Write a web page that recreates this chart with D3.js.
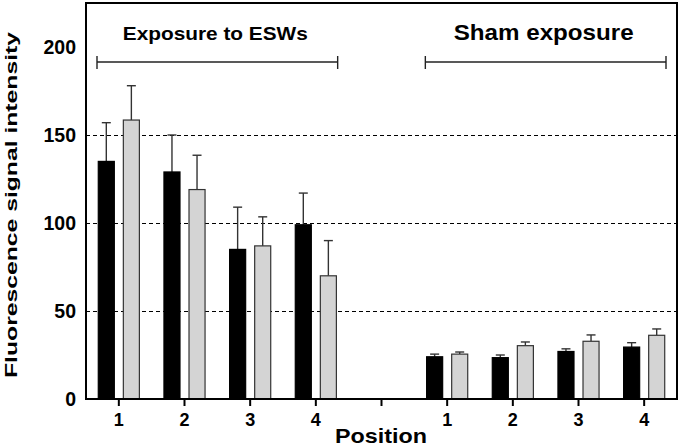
<!DOCTYPE html>
<html>
<head>
<meta charset="utf-8">
<script src="https://cdn.jsdelivr.net/npm/d3@7"></script>
<style>
  body { margin: 0; background: #fff; }
  text { font-family: "Liberation Sans", Arial, sans-serif; font-weight: bold; fill: #000; }
</style>
</head>
<body>
<div id="chart"></div>
<script>
// x slots: 4 positions, an empty gap slot, 4 positions
const xLabels = ["1", "2", "3", "4", "", "1", "2", "3", "4"];
const yTicks = [0, 50, 100, 150, 200];
const gridValues = [50, 100, 150];

// exposure to ESWs (slots 0-3)
const eswBlack = [135, 129, 85, 99];
const eswBlackErr = [22, 21, 24, 18];
const eswGray = [158.5, 119, 87, 70];
const eswGrayErr = [19.5, 19.5, 16.5, 20];

// sham exposure (slots 5-8)
const shamBlack = [24, 23.5, 27, 29.5];
const shamBlackErr = [1.5, 1.5, 1.5, 2.5];
const shamGray = [25.5, 30.3, 32.8, 36.2];
const shamGrayErr = [1.2, 2.1, 3.6, 3.6];

const groups = [
  { label: "Exposure to ESWs", slots: [0, 3], size: 18.5, len: 185 },
  { label: "Sham exposure", slots: [5, 8], size: 22, len: 180 }
];

const width = 683, height = 446;
const margin = { top: 3, right: 6, bottom: 47, left: 86 };

const svg = d3.select("#chart").append("svg")
  .attr("width", width)
  .attr("height", height);

const x = d3.scaleBand()
  .domain(d3.range(xLabels.length))
  .range([margin.left, width - margin.right]);

const xInner = d3.scaleBand()
  .domain(["black", "gray"])
  .range([0, x.bandwidth()])
  .paddingInner(0.36)
  .paddingOuter(0.49);

const y = d3.scaleLinear()
  .domain([0, 225])
  .range([height - margin.bottom, margin.top]);

// build bar records
const bars = [];
eswBlack.forEach((v, i) => bars.push({ slot: i, s: "black", v, e: eswBlackErr[i] }));
eswGray.forEach((v, i) => bars.push({ slot: i, s: "gray", v, e: eswGrayErr[i] }));
shamBlack.forEach((v, i) => bars.push({ slot: i + 5, s: "black", v, e: shamBlackErr[i] }));
shamGray.forEach((v, i) => bars.push({ slot: i + 5, s: "gray", v, e: shamGrayErr[i] }));

// dashed gridlines
svg.append("g").selectAll("line")
  .data(gridValues)
  .join("line")
  .attr("x1", margin.left)
  .attr("x2", width - margin.right)
  .attr("y1", d => Math.round(y(d)) + 0.5)
  .attr("y2", d => Math.round(y(d)) + 0.5)
  .attr("stroke", "#000")
  .attr("stroke-width", 1)
  .attr("stroke-dasharray", "4,3");

// error bars (upper only)
const err = svg.append("g")
  .attr("stroke", "#333")
  .attr("stroke-width", 1.4);
const cx = d => x(d.slot) + xInner(d.s) + xInner.bandwidth() / 2;
err.selectAll("line.v")
  .data(bars)
  .join("line")
  .attr("class", "v")
  .attr("x1", cx).attr("x2", cx)
  .attr("y1", d => y(d.v))
  .attr("y2", d => y(d.v + d.e));
err.selectAll("line.c")
  .data(bars)
  .join("line")
  .attr("class", "c")
  .attr("x1", d => cx(d) - 4.5)
  .attr("x2", d => cx(d) + 4.5)
  .attr("y1", d => y(d.v + d.e))
  .attr("y2", d => y(d.v + d.e));

// bars
svg.append("g").selectAll("rect")
  .data(bars)
  .join("rect")
  .attr("x", d => x(d.slot) + xInner(d.s))
  .attr("y", d => y(d.v))
  .attr("width", xInner.bandwidth())
  .attr("height", d => y(0) - y(d.v))
  .attr("fill", d => d.s === "black" ? "#000" : "#d4d4d4")
  .attr("stroke", d => d.s === "black" ? "#000" : "#333")
  .attr("stroke-width", 1.2);

// frame
svg.append("rect")
  .attr("x", margin.left)
  .attr("y", margin.top)
  .attr("width", width - margin.left - margin.right)
  .attr("height", height - margin.top - margin.bottom)
  .attr("fill", "none")
  .attr("stroke", "#000")
  .attr("stroke-width", 2);

// x axis
const xAxis = svg.append("g")
  .attr("transform", `translate(0,${height - margin.bottom})`)
  .call(d3.axisBottom(x).tickSize(7).tickPadding(7).tickFormat(i => xLabels[i]));
xAxis.select(".domain").remove();
xAxis.selectAll(".tick line").attr("stroke", "#000").attr("stroke-width", 2);
xAxis.selectAll(".tick text")
  .style("font-size", "18px")
  .style("font-family", "'Liberation Sans', Arial, sans-serif")
  .style("font-weight", "bold");

// y axis
const yAxis = svg.append("g")
  .attr("transform", `translate(${margin.left},0)`)
  .call(d3.axisLeft(y).tickValues(yTicks).tickSize(0).tickPadding(10));
yAxis.select(".domain").remove();
yAxis.selectAll(".tick text")
  .style("font-size", "19.5px")
  .style("font-family", "'Liberation Sans', Arial, sans-serif")
  .style("font-weight", "bold");

// group brackets
const br = svg.append("g");
groups.forEach(g => {
  const x1 = x(g.slots[0]) + 11;
  const x2 = x(g.slots[1]) + x.bandwidth() - 11;
  br.append("line")
    .attr("x1", x1).attr("x2", x2)
    .attr("y1", 62).attr("y2", 62)
    .attr("stroke", "#222").attr("stroke-width", 1.4);
  [x1, x2].forEach(xx => br.append("line")
    .attr("x1", xx).attr("x2", xx)
    .attr("y1", 56).attr("y2", 69)
    .attr("stroke", "#222").attr("stroke-width", 1.4));
  br.append("text")
    .attr("x", (x1 + x2) / 2 - 2)
    .attr("y", 40)
    .attr("text-anchor", "middle")
    .attr("textLength", g.len)
    .attr("lengthAdjust", "spacingAndGlyphs")
    .style("font-size", `${g.size}px`)
    .text(g.label);
});

// axis titles
svg.append("text")
  .attr("x", 381)
  .attr("y", 443)
  .attr("text-anchor", "middle")
  .attr("textLength", 92)
  .attr("lengthAdjust", "spacingAndGlyphs")
  .style("font-size", "21px")
  .text("Position");

svg.append("text")
  .attr("transform", "translate(17,205) rotate(-90)")
  .attr("text-anchor", "middle")
  .attr("textLength", 346)
  .attr("lengthAdjust", "spacingAndGlyphs")
  .style("font-size", "16px")
  .text("Fluorescence signal intensity");
</script>
</body>
</html>
